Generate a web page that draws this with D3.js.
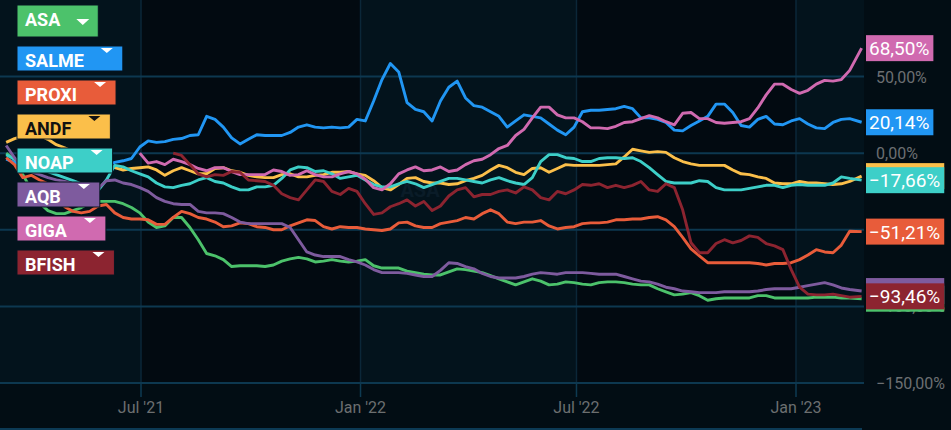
<!DOCTYPE html>
<html>
<head>
<meta charset="utf-8">
<script src="https://cdn.jsdelivr.net/npm/d3@7"></script>
<style>
  html, body { margin: 0; padding: 0; background: #020d14; }
  svg { display: block; font-family: Roboto, "Liberation Sans", sans-serif; }
</style>
</head>
<body>
<div id="chart"></div>
<script>
// weekly closes, % change since start (GIGA and BFISH start later)
const names  = ['ASA', 'SALME', 'PROXI', 'ANDF', 'NOAP', 'AQB', 'GIGA', 'BFISH'];
const colors = ['#4cc26b', '#2196f3', '#e85c3a', '#fbbf4a', '#3dcfc8', '#7e5b9e', '#d06ab0', '#8c2430'];

const asa = [0, -4, -14, -24, -32.5, -37.5, -39.5, -39.5, -37.5, -35.5,
  -32.5, -31.5, -31.5, -31.5, -33, -35.5, -39, -45, -48.5, -47.5,
  -42, -42, -48.5, -56.5, -65.5, -67, -69.5, -74, -73.5, -73.5,
  -73.5, -74, -73, -70.5, -69, -68, -69, -71, -70.5, -69.5,
  -70.5, -71, -70.5, -69.5, -73.5, -75, -75, -75, -77, -78,
  -79, -79.5, -79.5, -77.5, -75.5, -76, -77, -78, -80, -82,
  -84, -86, -84, -82, -83.5, -86, -85.5, -84, -84.5, -85.5,
  -86, -84.5, -84, -84, -84.5, -85.5, -86, -86, -88.5, -90.5,
  -92.5, -92, -91, -93, -96, -95, -94.5, -94.5, -94.5, -94.5,
  -93, -93, -94.5, -94.5, -94.5, -94.5, -94.5, -94, -94, -94,
  -94.5, -94.5, -95];

const salme = [-4, -6, -7, -7.5, -8, -9, -9.5, -9.5, -9.5, -9.5,
  -9.5, -9.5, -8, -6, -5, -3.5, 4, 8, 7, 7.5,
  9, 9.5, 11.5, 12, 24, 22, 17, 10, 6, 9,
  12, 11.5, 11.5, 11.5, 13.5, 17, 18.5, 17, 16.5, 17,
  16.5, 17, 22, 21, 34, 48, 58.5, 53, 33, 28.5,
  27, 21, 34, 43, 47, 36, 31, 30, 27, 24,
  17, 21, 25, 24, 23, 19, 15, 12, 17, 27,
  28, 28, 28.5, 29, 30.5, 29, 23, 23, 22, 20,
  15, 14.5, 18, 21, 24, 32, 32, 26.5, 18, 17,
  22, 24, 19, 18.5, 21, 22.5, 19, 16.5, 16, 20,
  22, 22.5, 20.14];

const proxi = [-3, -7.5, -16, -14.5, -17.5, -20, -27, -35, -38, -39,
  -38, -34.5, -33.5, -39, -42, -43, -43, -43.5, -46.5, -46.5,
  -42, -38, -39.5, -42, -43, -45, -48, -47.5, -45.5, -46,
  -48, -48.5, -50, -50, -47.5, -45.5, -43.5, -44, -48, -49.5,
  -48, -48.5, -48.5, -49.5, -50, -50.5, -49.5, -45.5, -45, -47.5,
  -48.5, -48.5, -46, -45, -44, -42, -43, -39.5, -37, -39.5,
  -45, -46, -45, -45, -44, -47.5, -49.5, -48.5, -48, -46,
  -45.5, -45.5, -45, -43.5, -43.5, -43, -43, -42, -41.5, -43.5,
  -48, -55, -62.5, -67, -71.5, -71.5, -71.5, -71.5, -71.5, -71.5,
  -72, -73, -72, -72, -71.5, -69.5, -66.5, -63, -64.5, -65,
  -60, -51, -51.21];

const andf = [7, 9.5, 11, 11.5, 11.5, 9, 5.5, 3.5, 1, -1.5,
  -4, -6, -8, -9.5, -11, -10, -9.5, -9, -11, -14.5,
  -11.5, -9.5, -11.5, -13.5, -13.5, -10, -9.5, -11.5, -12.5, -14.5,
  -15.5, -16, -16, -14, -13.5, -15.5, -15.5, -14.5, -14, -12.5,
  -12.5, -12, -13.5, -14.5, -18, -22.5, -24, -20.5, -16.5, -16,
  -18.5, -19.5, -19.5, -20.5, -20, -18, -16.5, -14.5, -11, -8,
  -9.5, -12.5, -14, -10, -9.5, -12.5, -10, -7.5, -8, -8,
  -8, -8, -7.5, -7, -2.5, 2.5, 1.5, 0.5, 1, 0.5,
  -3, -5.5, -7, -8, -8, -8, -8, -11, -13.5, -14,
  -15.5, -16.5, -19.5, -20, -20, -18.5, -19.5, -19.5, -20, -20.5,
  -20, -18.5, -15];

const noap = [-1, -4, -6, -8, -10, -12, -14, -16, -18, -20,
  -22.5, -24.5, -17.5, -8, -9, -11.5, -13.5, -15.5, -19.5, -22,
  -22.5, -21, -20, -17.5, -16, -18.5, -19.5, -22, -24, -24,
  -22, -22, -21, -16.5, -11, -9, -9.5, -12, -11.5, -13.5,
  -16.5, -15.5, -14.5, -17.5, -20.5, -22, -22, -20, -18.5, -20,
  -22.5, -20.5, -18.5, -16.5, -16.5, -17.5, -18.5, -19.5, -17.5, -16,
  -18, -19.5, -20.5, -16, -5.5, -1, -1, -3, -3.5, -5.5,
  -5.5, -3.5, -3, -3, -3.5, -3, -5.5, -9.5, -14, -18.5,
  -19.5, -19.5, -19.5, -18, -18.5, -22.5, -24, -24, -24, -23,
  -22, -21, -21, -22.5, -21, -20.5, -21, -21, -21, -19.5,
  -15.5, -16.5, -17.66];

const aqb = [5, -3, -9.5, -12, -14, -16, -17.5, -18.5, -20, -21,
  -22.5, -23, -18, -17.5, -19.5, -20.5, -22.5, -25, -29, -31.5,
  -33, -33.5, -33.5, -38, -39, -39, -39.5, -42, -45, -46,
  -46, -46, -46, -46, -48.5, -56.5, -64.5, -66.5, -67.5, -67.5,
  -67.5, -69.5, -71, -73, -76, -78, -78, -78, -78.5, -79.5,
  -80.5, -80.5, -76.5, -71.5, -72, -74, -75.5, -78.5, -80.5, -81.5,
  -81.5, -81.5, -80.5, -79, -78, -78.5, -79, -78, -78, -78,
  -78.5, -79, -79, -79, -80.5, -82, -83.5, -84, -85.5, -87.5,
  -88.5, -90, -90.5, -91, -91, -91, -90.5, -90.5, -90.5, -90.5,
  -90, -89, -88.5, -88.5, -88.5, -87.5, -86.5, -85.5, -84.5, -86,
  -88, -89, -90];

const giga = [null, null, null, null, null, null, null, null, null, null,
  null, null, null, null, null, null, 0, -6.5, -5.5, -7.5,
  -4, -5.5, -7.5, -10, -11.5, -9.5, -9.5, -12, -14, -14,
  -14, -14, -11, -12, -14.5, -14, -11.5, -14, -15.5, -15.5,
  -13.5, -12, -13.5, -17, -22.5, -24, -20, -13.5, -11, -9,
  -11.5, -11, -9, -12, -11, -7.5, -5, -4, -1, 3,
  5, 11.5, 15.5, 23, 30, 30, 25, 23, 23, 20.5,
  16.5, 16.5, 16, 17.5, 20, 20.5, 22.5, 24.5, 23, 20.5,
  18.5, 26, 26.5, 22.5, 22.5, 20, 19.5, 20, 20.5, 22.5,
  29.5, 38, 45, 45, 41.5, 39, 41, 45, 47.5, 47,
  48, 54, 68.5];

const bfish = [null, null, null, null, null, null, null, null, null, null,
  null, null, null, null, null, null, null, null, null, null,
  0, -1.5, -7.5, -13.5, -15.5, -14, -14.5, -12, -12.5, -17.5,
  -18, -18.5, -21, -26.5, -29, -30.5, -24, -17.5, -18.5, -25,
  -27, -23, -25, -33, -40, -39, -35, -33, -30.5, -34.5,
  -31.5, -37.5, -34.5, -28, -24, -22.5, -28.5, -27, -27, -25,
  -24, -26, -22, -24, -29, -30.5, -25, -26.5, -24, -20.5,
  -21, -20, -22.5, -21, -22.5, -21, -18.5, -24, -25, -20,
  -22.5, -37, -58.5, -65, -65, -59, -56.5, -58.5, -57, -54,
  -55, -59, -60.5, -63, -76, -87.5, -92, -92.5, -92.5, -92,
  -93, -94, -93.46];

const seriesValues = [asa, salme, proxi, andf, noap, aqb, giga, bfish];
const yTicks = [50, 0, -50, -100, -150];
const xTicks = ['2021-07-01', '2022-01-01', '2022-07-01', '2023-01-01'];
const firstWeek = new Date(2021, 2, 10);
const lastDay = new Date(2023, 1, 25);

// one date per weekly point, the last one is the latest close
const dates = d3.range(asa.length - 1).map(i => d3.timeDay.offset(firstWeek, 7 * i)).concat([lastDay]);

const width = 951, height = 430;
const plotRight = 864, plotBottom = 383;

const svg = d3.select('#chart').append('svg')
    .attr('width', width)
    .attr('height', height);

const x = d3.scaleTime()
    .domain([new Date(2021, 6, 1), new Date(2023, 0, 1)])
    .range([141, 796]);

const y = d3.scaleLinear()
    .domain([-150, 50])
    .range([plotBottom, 76.5]);

const locale = d3.formatLocale({ decimal: ',', thousands: '.', grouping: [3], currency: ['', ''] });
const pct = v => locale.format('.2f')(v) + '%';

// half-year background bands (Jan-Jul lighter)
const bandStarts = d3.timeMonth.every(6).range(new Date(2021, 0, 1), new Date(2023, 6, 2));
svg.append('g').selectAll('rect')
    .data(bandStarts)
    .enter()
    .append('rect')
    .attr('x', d => Math.max(0, x(d)))
    .attr('y', 0)
    .attr('width', d => Math.max(0, Math.min(plotRight, x(d3.timeMonth.offset(d, 6))) - Math.max(0, x(d))))
    .attr('height', plotBottom)
    .attr('fill', d => d.getMonth() === 0 ? '#03131c' : '#020a11');

// vertical grid + ticks
const tickDates = xTicks.map(d => new Date(d + 'T00:00:00'));
const xg = svg.append('g');
xg.selectAll('line.grid')
    .data(tickDates)
    .enter()
    .append('line')
    .attr('class', 'grid')
    .attr('x1', d => x(d)).attr('x2', d => x(d))
    .attr('y1', 0).attr('y2', plotBottom)
    .attr('stroke', '#0b2738')
    .attr('stroke-width', 1.5);
xg.selectAll('line.tick')
    .data(tickDates)
    .enter()
    .append('line')
    .attr('class', 'tick')
    .attr('x1', d => x(d)).attr('x2', d => x(d))
    .attr('y1', plotBottom).attr('y2', 397)
    .attr('stroke', '#0e3a52')
    .attr('stroke-width', 1.5);
xg.selectAll('text')
    .data(tickDates)
    .enter()
    .append('text')
    .attr('x', d => x(d))
    .attr('y', 413)
    .attr('text-anchor', 'middle')
    .attr('font-size', 16)
    .attr('fill', '#6c6f70')
    .text(d => d3.timeFormat("%b '%y")(d));

// horizontal grid
svg.append('g').selectAll('line')
    .data(yTicks)
    .enter()
    .append('line')
    .attr('x1', 0).attr('x2', plotRight)
    .attr('y1', d => y(d)).attr('y2', d => y(d))
    .attr('stroke', '#0d3850')
    .attr('stroke-width', 2);

// bottom border
svg.append('line')
    .attr('x1', 0).attr('x2', 862)
    .attr('y1', 429).attr('y2', 429)
    .attr('stroke', '#0c3a55')
    .attr('stroke-width', 2);

// faint symbol watermark
svg.append('text')
    .attr('x', 420).attr('y', 197)
    .attr('text-anchor', 'middle')
    .attr('font-size', 20)
    .attr('font-weight', 'bold')
    .attr('fill', '#0a1c28')
    .text(names[0]);

// y tick labels (the series tags sit on top of some of them, as in the original)
svg.append('g').selectAll('text')
    .data(yTicks)
    .enter()
    .append('text')
    .attr('x', 876)
    .attr('y', d => y(d) + 6)
    .attr('font-size', 16)
    .attr('fill', '#6c6f72')
    .text(d => pct(d));

// lines
const line = d3.line()
    .defined(d => d.v != null)
    .x(d => x(d.date))
    .y(d => y(d.v));

svg.append('g').selectAll('path')
    .data(seriesValues.map((vals, k) => ({ k, pts: vals.map((v, i) => ({ date: dates[i], v })) })))
    .enter()
    .append('path')
    .attr('d', d => line(d.pts))
    .attr('fill', 'none')
    .attr('stroke', d => colors[d.k])
    .attr('stroke-width', 2.9)
    .attr('stroke-linejoin', 'round');

// last value tags
seriesValues.forEach((vals, k) => {
    const v = vals[vals.length - 1];
    const g = svg.append('g').attr('transform', `translate(866,${y(v)})`);
    const rect = g.append('rect').attr('y', -13).attr('height', 26).attr('fill', colors[k]);
    const t = g.append('text')
        .attr('x', 3).attr('y', 7)
        .attr('font-size', 19)
        .attr('fill', names[k] === 'ANDF' ? '#1a1a1a' : '#ffffff')
        .text(pct(v));
    rect.attr('width', t.node().getComputedTextLength() + 7);
});

// legend buttons
names.forEach((name, k) => {
    const big = k === 0;
    const top = big ? 5 : 46 + 34 * (k - 1);
    const h = big ? 32 : 25;
    const g = svg.append('g').attr('transform', `translate(17,${top})`);
    const rect = g.append('rect').attr('height', h).attr('fill', colors[k])
        .attr('stroke', '#061520').attr('stroke-width', 1);
    const dark = name === 'ANDF';
    const t = g.append('text')
        .attr('x', 8).attr('y', 21)
        .attr('font-size', 18)
        .attr('font-weight', 'bold')
        .attr('fill', dark ? '#111111' : '#ffffff')
        .text(name);
    const tw = t.node().getComputedTextLength();
    const triX = 8 + tw + (big ? 16 : 17);
    const triY = big ? 14 : 2;
    const tw2 = big ? 13 : 12, th = big ? 6 : 5;
    g.append('path')
        .attr('d', `M${triX},${triY}L${triX + tw2},${triY}L${triX + tw2 / 2},${triY + th}Z`)
        .attr('fill', dark ? '#111111' : '#ffffff');
    rect.attr('width', triX + tw2 + (big ? 9 : 10));
});
</script>
</body>
</html>
